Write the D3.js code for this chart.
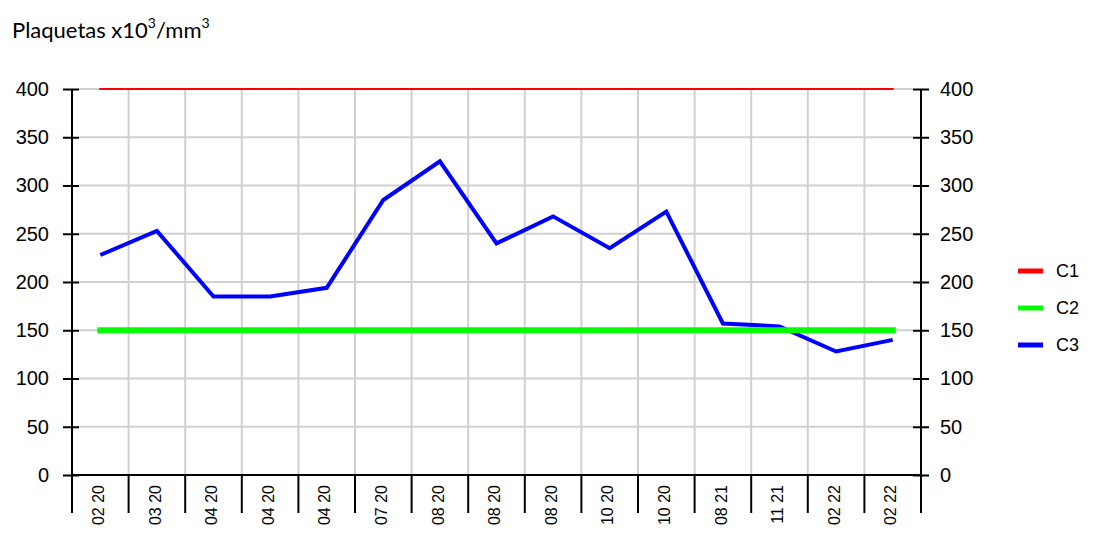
<!DOCTYPE html>
<html>
<head>
<meta charset="utf-8">
<style>
  body { margin: 0; background: #fff; }
  svg { display: block; font-family: "Liberation Sans", Arial, sans-serif; }
</style>
</head>
<body>
<svg width="1099" height="547"></svg>
<script src="https://cdn.jsdelivr.net/npm/d3@7"></script>
<script>

// data
var fechas = ["02 20", "03 20", "04 20", "04 20", "04 20", "07 20", "08 20", "08 20",
              "08 20", "10 20", "10 20", "08 21", "11 21", "02 22", "02 22"];
var c1 = [400, 400, 400, 400, 400, 400, 400, 400, 400, 400, 400, 400, 400, 400, 400];
var c2 = [150, 150, 150, 150, 150, 150, 150, 150, 150, 150, 150, 150, 150, 150, 150];
var c3 = [228, 253, 185, 185, 194, 285, 325, 240, 268, 235, 273, 157, 154, 128, 140];
var yTicks = [0, 50, 100, 150, 200, 250, 300, 350, 400];
var series = [
  { name: "C1", values: c1, color: "#ff0000", width: 2, cap: "square", z: 1 },
  { name: "C2", values: c2, color: "#00ff00", width: 6, cap: "square", z: 2 },
  { name: "C3", values: c3, color: "#0000ff", width: 4, cap: "butt", z: 0 }
];

var svg = d3.select("svg");
var plotL = 72, plotR = 921, plotT = 89, plotB = 475, tickB = 513;

var idx = fechas.map(function(d, i) { return i; });
var x = d3.scaleBand().domain(idx).range([plotL, plotR]);
var y = d3.scaleLinear().domain([0, 400]).range([plotB, plotT]);
var cx = function(i) { return x(i) + x.bandwidth() / 2; };

// title
var title = svg.append("text")
    .attr("x", 12).attr("y", 38)
    .attr("font-family", "Lato, 'Open Sans', sans-serif")
    .attr("font-size", 22)
    .attr("fill", "#000");
title.append("tspan").text("Plaquetas x10");
title.append("tspan").attr("font-size", 14).attr("dy", -10).text("3");
title.append("tspan").attr("dy", 10).text("/mm");
title.append("tspan").attr("font-size", 14).attr("dy", -10).text("3");

// grid
svg.append("g").selectAll("line")
  .data(yTicks.filter(function(d) { return d > 0; }))
  .enter().append("line")
    .attr("x1", plotL + 7).attr("x2", plotR - 8)
    .attr("y1", function(d) { return y(d); }).attr("y2", function(d) { return y(d); })
    .attr("stroke", "#d0d0d0").attr("stroke-width", 2);

svg.append("g").selectAll("line")
  .data(idx.slice(1))
  .enter().append("line")
    .attr("x1", function(i) { return x(i); }).attr("x2", function(i) { return x(i); })
    .attr("y1", plotT).attr("y2", plotB)
    .attr("stroke", "#d0d0d0").attr("stroke-width", 2);

// y axes
function styleY(g, inner, outer) {
  g.select(".domain").remove();
  g.selectAll(".tick line")
    .attr("x1", inner).attr("x2", outer)
    .attr("stroke", "#000").attr("stroke-width", 2);
  g.selectAll(".tick text")
    .attr("font-size", 20)
    .attr("font-family", "'Liberation Sans', Arial, sans-serif")
    .attr("fill", "#000");
}

svg.append("g")
    .attr("transform", "translate(" + plotL + ",0)")
    .call(d3.axisLeft(y).tickValues(yTicks).tickSize(9).tickPadding(14))
    .call(styleY, -9, 7);

svg.append("g")
    .attr("transform", "translate(" + plotR + ",0)")
    .call(d3.axisRight(y).tickValues(yTicks).tickSize(8).tickPadding(11))
    .call(styleY, -8, 8);

// axis frame lines
svg.append("line")
    .attr("x1", plotL).attr("x2", plotL).attr("y1", plotT).attr("y2", tickB)
    .attr("stroke", "#000").attr("stroke-width", 2);
svg.append("line")
    .attr("x1", plotR).attr("x2", plotR).attr("y1", plotT).attr("y2", tickB)
    .attr("stroke", "#000").attr("stroke-width", 2);
svg.append("line")
    .attr("x1", plotL).attr("x2", plotR).attr("y1", plotB).attr("y2", plotB)
    .attr("stroke", "#000").attr("stroke-width", 2);

// x category separators
svg.append("g").selectAll("line")
  .data(idx.slice(1))
  .enter().append("line")
    .attr("x1", function(i) { return x(i); }).attr("x2", function(i) { return x(i); })
    .attr("y1", plotB).attr("y2", tickB)
    .attr("stroke", "#000").attr("stroke-width", 2);

// x labels
var xAxis = svg.append("g")
    .attr("transform", "translate(0," + plotB + ")")
    .call(d3.axisBottom(x).tickSize(0).tickFormat(function(i) { return fechas[i]; }));
xAxis.select(".domain").remove();
xAxis.selectAll(".tick text")
    .attr("transform", "rotate(-90)")
    .attr("text-anchor", "end")
    .attr("x", -10).attr("y", -2).attr("dy", "0.35em")
    .attr("font-size", 16)
    .attr("font-family", "'Liberation Sans', Arial, sans-serif")
    .attr("fill", "#000");

// series (blue drawn first, limit lines on top)
var line = d3.line()
    .x(function(d, i) { return cx(i); })
    .y(function(d) { return y(d); });

svg.append("g").selectAll("path")
  .data(series.slice().sort(function(a, b) { return a.z - b.z; }))
  .enter().append("path")
    .attr("d", function(s) { return line(s.values); })
    .attr("fill", "none")
    .attr("stroke", function(s) { return s.color; })
    .attr("stroke-width", function(s) { return s.width; })
    .attr("stroke-linecap", function(s) { return s.cap; })
    .attr("stroke-linejoin", "miter");

// legend
var legend = svg.append("g").selectAll("g")
  .data(series)
  .enter().append("g")
    .attr("transform", function(s, i) { return "translate(1018," + (271 + i * 37) + ")"; });
legend.append("line")
    .attr("x1", 0).attr("x2", 25)
    .attr("stroke", function(s) { return s.color; })
    .attr("stroke-width", 5);
legend.append("text")
    .attr("x", 38).attr("dy", "0.35em")
    .attr("font-size", 18)
    .attr("fill", "#000")
    .text(function(s) { return s.name; });

</script>
</body>
</html>
